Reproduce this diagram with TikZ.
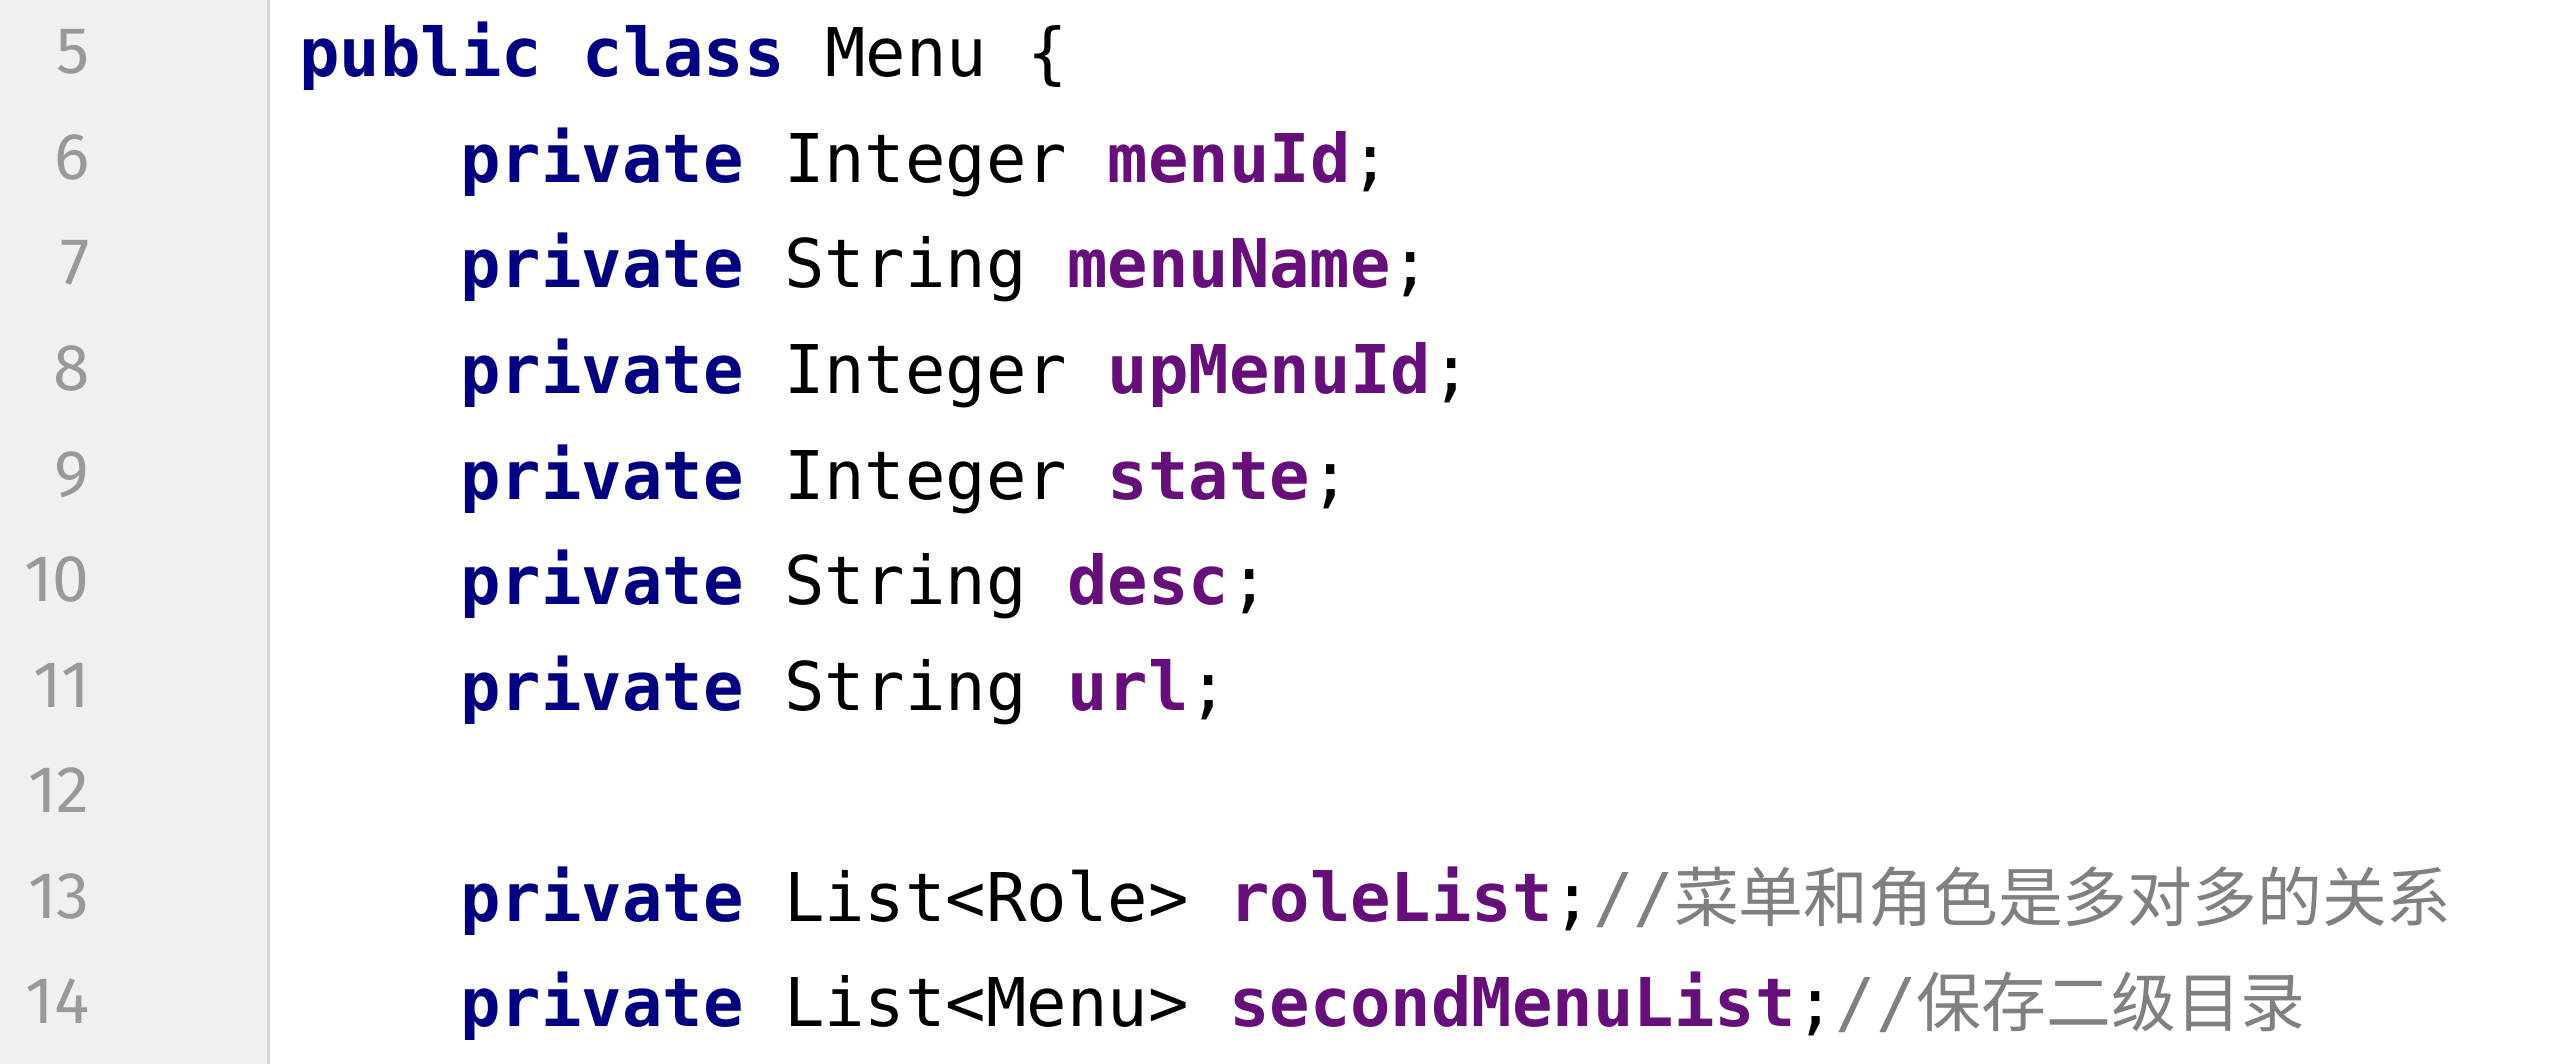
\documentclass[tikz,border=0pt]{standalone}
\usepackage{fontspec}
\newfontfamily\codefont{DejaVu Sans Mono}
\newfontfamily\numfont{Fira Sans}
\newfontfamily\cjkfont{Noto Sans CJK SC}
\definecolor{kwcol}{HTML}{000080}
\definecolor{fldcol}{HTML}{660E7A}
\definecolor{cmtcol}{HTML}{808080}
\definecolor{numcol}{HTML}{999999}
\definecolor{gutterbg}{HTML}{F0F0F0}
\definecolor{gutterln}{HTML}{D4D4D4}
\newcommand{\ckw}[1]{\textcolor{kwcol}{\bfseries #1}}
\newcommand{\cfld}[1]{\textcolor{fldcol}{\bfseries #1}}
\newcommand{\ccmt}[1]{\textcolor{cmtcol}{//{\cjkfont\fontsize{32.4pt}{36pt}\selectfont #1}}}
\tikzset{
  codeline/.style={anchor=base west, inner sep=0pt, font=\codefont\fontsize{33.6pt}{40pt}\selectfont, text=black},
  lnum/.style={anchor=base east, inner sep=0pt, font=\numfont\fontsize{33pt}{38pt}\selectfont, text=numcol}
}
\begin{document}
\begin{tikzpicture}[x=0.5pt,y=-0.5pt]
\useasboundingbox (0,0) rectangle (2560,1064);
\fill[white] (0,0) rectangle (2560,1064);
\fill[gutterbg] (0,0) rectangle (268,1064);
\draw[gutterln, line width=1.5pt] (268,0) -- (268,1064);
% line numbers
\foreach \n [count=\i from 0] in {5,...,14} {
  \node[lnum] (n\n) at (90,74+105.5*\i) {\n};
}
% code
\node[codeline] (l5) at (299,77) {\ckw{public} \ckw{class} Menu \{};
\node[codeline] (l6) at (460,182.5) {\ckw{private} Integer \cfld{menuId};};
\node[codeline] (l7) at (460,288) {\ckw{private} String \cfld{menuName};};
\node[codeline] (l8) at (460,393.5) {\ckw{private} Integer \cfld{upMenuId};};
\node[codeline] (l9) at (460,499) {\ckw{private} Integer \cfld{state};};
\node[codeline] (l10) at (460,604.5) {\ckw{private} String \cfld{desc};};
\node[codeline] (l11) at (460,710) {\ckw{private} String \cfld{url};};
\node[codeline] (l13) at (460,921) {\ckw{private} List<Role> \cfld{roleList};\ccmt{菜单和角色是多对多的关系}};
\node[codeline] (l14) at (460,1026.5) {\ckw{private} List<Menu> \cfld{secondMenuList};\ccmt{保存二级目录}};
\end{tikzpicture}
\end{document}
